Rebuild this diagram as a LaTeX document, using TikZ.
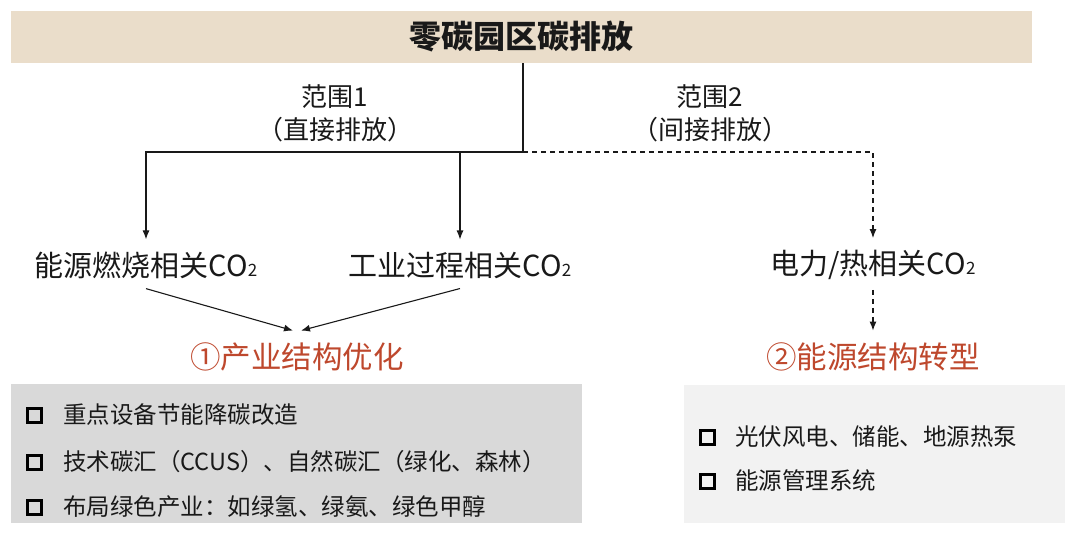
\documentclass[tikz,border=0pt]{standalone}
\usepackage{fontspec}
\setmainfont{Noto Sans CJK SC}
\usepackage{tikz}
\usetikzlibrary{arrows.meta}
\definecolor{barfill}{RGB}{234,221,202}
\definecolor{ink}{RGB}{25,25,25}
\definecolor{goalred}{RGB}{190,72,45}
\definecolor{leftfill}{RGB}{217,217,217}
\definecolor{rightfill}{RGB}{242,242,242}
\newcommand{\cotwo}{CO{\fontsize{17}{17}\selectfont 2}}
\tikzstyle{bar}=[rectangle, fill=barfill, minimum width=1021pt, minimum height=52pt, inner sep=0pt, font=\fontsize{32}{36}\selectfont\bfseries]
\tikzstyle{lbl}=[inner sep=0pt, align=center, font=\fontsize{26}{33}\selectfont]
\tikzstyle{src}=[inner sep=0pt, font=\fontsize{29}{32}\selectfont]
\tikzstyle{goal}=[inner sep=0pt, text=goalred, font=\fontsize{30.5}{34}\selectfont]
\tikzstyle{bx}=[rectangle, inner sep=0pt]
\tikzstyle{item}=[anchor=west, inner sep=0pt, font=\fontsize{23.5}{28}\selectfont]
\tikzstyle{tick}=[rectangle, draw=black, line width=3pt, minimum size=14pt, inner sep=0pt]
\tikzstyle{edge}=[-{Latex[length=9pt,width=7pt]}, line width=1.1pt, draw=ink]
\tikzstyle{indirect}=[-{Latex[length=9pt,width=7pt]}, line width=1.1pt, draw=ink, dash pattern=on 5pt off 4pt]

\begin{document}
\begin{tikzpicture}[x=1pt, y=-1pt, text=ink]
				\useasboundingbox (0,0) rectangle (1080,541);
				
				%The title bar
				\draw (521.5,37) node[bar] (top) {零碳园区碳排放};
				\coordinate (j) at (523,152);
				
				%The scopes
				\draw (335,113.5) node[lbl] (s1) {范围1\\（直接排放）};
				\draw (710,113.5) node[lbl] (s2) {范围2\\（间接排放）};
				
				%The sources
				\draw (146,265) node[src] (n1) {能源燃烧相关\cotwo};
				\draw (460,265) node[src] (n2) {工业过程相关\cotwo};
				\draw (873,265) node[src] (n3) {电力/热相关\cotwo};
				
				%The goals
				\draw (297,357) node[goal] (g1) {①产业结构优化};
				\draw (873,357) node[goal] (g2) {②能源结构转型};
				
				%The boxes
				\draw (296.5,453.5) node[bx, fill=leftfill, minimum width=571pt, minimum height=139pt] (box1) {};
				\draw (874.5,454) node[bx, fill=rightfill, minimum width=381pt, minimum height=138pt] (box2) {};
				
				\draw (34.5,415) node[tick] (b11) {};
				\draw (63,415) node[item] (t11) {重点设备节能降碳改造};
				\draw (34.5,462) node[tick] (b12) {};
				\draw (63,462) node[item] (t12) {技术碳汇（CCUS）、自然碳汇（绿化、森林）};
				\draw (34.5,507) node[tick] (b13) {};
				\draw (63,507) node[item] (t13) {布局绿色产业：如绿氢、绿氨、绿色甲醇};
				
				\draw (707,437) node[tick] (b21) {};
				\draw (735,437) node[item] (t21) {光伏风电、储能、地源热泵};
				\draw (707,481) node[tick] (b22) {};
				\draw (735,481) node[item] (t22) {能源管理系统};
				
				%The connectors
				\draw[edge] (top.south -| j) -- (j) -| ([yshift=12pt]n1.north);
				\draw[edge] (j -| n2) -- ([yshift=12pt]n2.north);
				\draw[indirect] (j) -| ([yshift=12pt]n3.north);
				
				\draw[edge] ([yshift=-10pt]n1.south) -- ([xshift=-4pt,yshift=12pt]g1.north);
				\draw[edge] ([yshift=-10pt]n2.south) -- ([xshift=4pt,yshift=12pt]g1.north);
				\draw[indirect] ([yshift=-10pt]n3.south) -- ([yshift=12pt]g2.north);
			\end{tikzpicture}
\end{document}
